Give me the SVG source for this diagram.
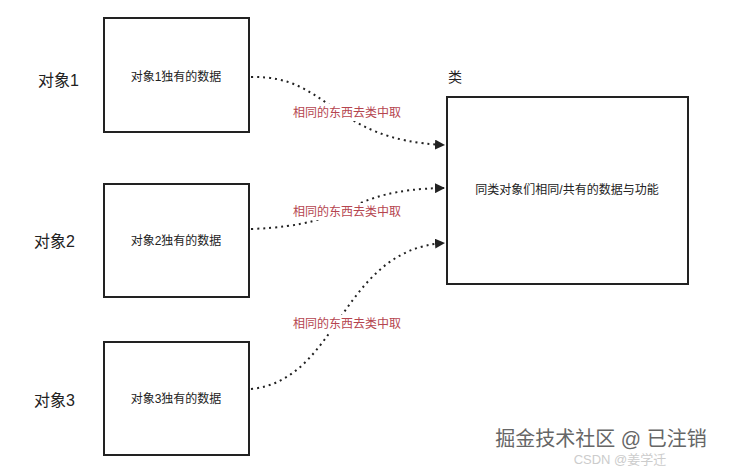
<svg xmlns="http://www.w3.org/2000/svg" width="747" height="469" viewBox="0 0 747 469">
<style>
.box{fill:#fff;stroke:#222;stroke-width:2}
.t{font-family:"Liberation Sans","Noto Sans CJK SC",sans-serif;fill:#222}
.lbl{font-family:"Liberation Sans","Noto Sans CJK SC",sans-serif;fill:#b5454f;font-size:12px}
.bg{fill:#fff}
.c{fill:none;stroke:#222;stroke-width:2;stroke-dasharray:2 4;marker-end:url(#a)}
</style>
<defs><marker id="a" markerWidth="10" markerHeight="10" refX="9" refY="5" orient="auto" markerUnits="userSpaceOnUse"><path d="M0,0L10,5L0,10z" fill="#222"/></marker></defs>
<rect width="747" height="469" fill="#fff"/>
<g id="obj1"><text class="t" x="38" y="86" font-size="16">对象1</text><rect class="box" x="104" y="18" width="145" height="114"/><text class="t" x="176" y="81" font-size="12" text-anchor="middle">对象1独有的数据</text></g>
<g id="obj2"><text class="t" x="34" y="247" font-size="16">对象2</text><rect class="box" x="104" y="184" width="145" height="113"/><text class="t" x="176" y="245" font-size="12" text-anchor="middle">对象2独有的数据</text></g>
<g id="obj3"><text class="t" x="34" y="406" font-size="16">对象3</text><rect class="box" x="104" y="342" width="145" height="113"/><text class="t" x="176" y="403" font-size="12" text-anchor="middle">对象3独有的数据</text></g>
<g id="class"><text class="t" x="448" y="82" font-size="14">类</text><rect class="box" x="447" y="97" width="241" height="187"/><text class="t" x="567" y="194" font-size="12" text-anchor="middle">同类对象们相同/共有的数据与功能</text></g>
<g id="connectors">
<path class="c" d="M251,77C330,75 330,140 444,145"/>
<path class="c" d="M251,229C360,225 340,190 444,188"/>
<path class="c" d="M251,389C340,380 340,250 444,243"/>
<rect class="bg" x="290" y="104" width="115" height="17"/>
<rect class="bg" x="290" y="203" width="115" height="17"/>
<rect class="bg" x="290" y="315" width="115" height="17"/>
<text class="lbl" x="347" y="117" text-anchor="middle">相同的东西去类中取</text>
<text class="lbl" x="347" y="216" text-anchor="middle">相同的东西去类中取</text>
<text class="lbl" x="347" y="328" text-anchor="middle">相同的东西去类中取</text>
</g>
<text x="620" y="464" font-family="Liberation Sans,Noto Sans CJK SC,sans-serif" font-size="13" fill="#ccc" text-anchor="middle">CSDN @姜学迁</text>
<text x="601" y="446" font-family="Liberation Sans,Noto Sans CJK SC,sans-serif" font-size="20" fill="#666" text-anchor="middle">掘金技术社区 @ 已注销</text>
</svg>
